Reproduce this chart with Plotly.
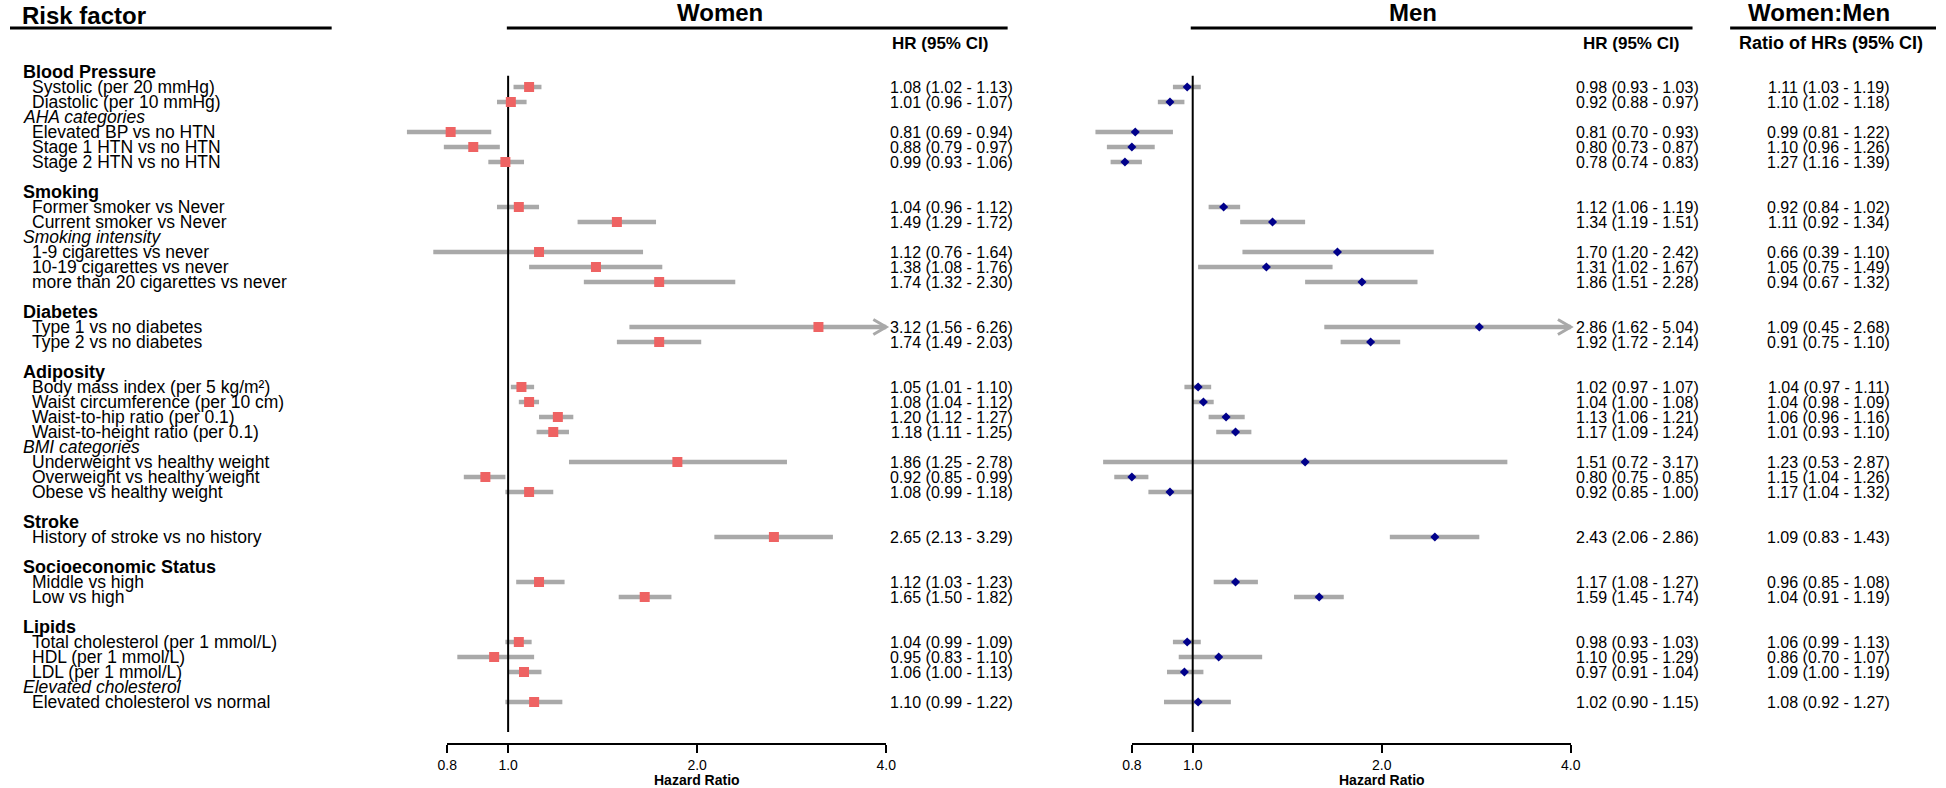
import math
import plotly.graph_objects as go

# ---------------- data ----------------
row_labels = [
    "Blood Pressure", "Systolic (per 20 mmHg)", "Diastolic (per 10 mmHg)", "AHA categories",
    "Elevated BP vs no HTN", "Stage 1 HTN vs no HTN", "Stage 2 HTN vs no HTN", "",
    "Smoking", "Former smoker vs Never", "Current smoker vs Never", "Smoking intensity",
    "1-9 cigarettes vs never", "10-19 cigarettes vs never", "more than 20 cigarettes vs never", "",
    "Diabetes", "Type 1 vs no diabetes", "Type 2 vs no diabetes", "",
    "Adiposity", "Body mass index (per 5 kg/m²)", "Waist circumference (per 10 cm)",
    "Waist-to-hip ratio (per 0.1)", "Waist-to-height ratio (per 0.1)", "BMI categories",
    "Underweight vs healthy weight", "Overweight vs healthy weight", "Obese vs healthy weight", "",
    "Stroke", "History of stroke vs no history", "",
    "Socioeconomic Status", "Middle vs high", "Low vs high", "",
    "Lipids", "Total cholesterol (per 1 mmol/L)", "HDL (per 1 mmol/L)", "LDL (per 1 mmol/L)",
    "Elevated cholesterol", "Elevated cholesterol vs normal",
]
row_kinds = ("g i i s i i i b g i i s i i i b g i i b g i i i i s i i i b "
             "g i b g i i b g i i i s i").split()

women_hr = [1.08, 1.01, 0.81, 0.88, 0.99, 1.04, 1.49, 1.12, 1.38, 1.74, 3.12, 1.74, 1.05,
            1.08, 1.20, 1.18, 1.86, 0.92, 1.08, 2.65, 1.12, 1.65, 1.04, 0.95, 1.06, 1.10]
women_lo = [1.02, 0.96, 0.69, 0.79, 0.93, 0.96, 1.29, 0.76, 1.08, 1.32, 1.56, 1.49, 1.01,
            1.04, 1.12, 1.11, 1.25, 0.85, 0.99, 2.13, 1.03, 1.50, 0.99, 0.83, 1.00, 0.99]
women_hi = [1.13, 1.07, 0.94, 0.97, 1.06, 1.12, 1.72, 1.64, 1.76, 2.30, 6.26, 2.03, 1.10,
            1.12, 1.27, 1.25, 2.78, 0.99, 1.18, 3.29, 1.23, 1.82, 1.09, 1.10, 1.13, 1.22]

men_hr = [0.98, 0.92, 0.81, 0.80, 0.78, 1.12, 1.34, 1.70, 1.31, 1.86, 2.86, 1.92, 1.02,
          1.04, 1.13, 1.17, 1.51, 0.80, 0.92, 2.43, 1.17, 1.59, 0.98, 1.10, 0.97, 1.02]
men_lo = [0.93, 0.88, 0.70, 0.73, 0.74, 1.06, 1.19, 1.20, 1.02, 1.51, 1.62, 1.72, 0.97,
          1.00, 1.06, 1.09, 0.72, 0.75, 0.85, 2.06, 1.08, 1.45, 0.93, 0.95, 0.91, 0.90]
men_hi = [1.03, 0.97, 0.93, 0.87, 0.83, 1.19, 1.51, 2.42, 1.67, 2.28, 5.04, 2.14, 1.07,
          1.08, 1.21, 1.24, 3.17, 0.85, 1.00, 2.86, 1.27, 1.74, 1.03, 1.29, 1.04, 1.15]

ratio_hr = [1.11, 1.10, 0.99, 1.10, 1.27, 0.92, 1.11, 0.66, 1.05, 0.94, 1.09, 0.91, 1.04,
            1.04, 1.06, 1.01, 1.23, 1.15, 1.17, 1.09, 0.96, 1.04, 1.06, 0.86, 1.09, 1.08]
ratio_lo = [1.03, 1.02, 0.81, 0.96, 1.16, 0.84, 0.92, 0.39, 0.75, 0.67, 0.45, 0.75, 0.97,
            0.98, 0.96, 0.93, 0.53, 1.04, 1.04, 0.83, 0.85, 0.91, 0.99, 0.70, 1.00, 0.92]
ratio_hi = [1.19, 1.18, 1.22, 1.26, 1.39, 1.02, 1.34, 1.10, 1.49, 1.32, 2.68, 1.10, 1.11,
            1.09, 1.16, 1.10, 2.87, 1.26, 1.32, 1.43, 1.08, 1.19, 1.13, 1.07, 1.19, 1.27]

tick_vals = [0.8, 1.0, 2.0, 4.0]
tick_text = ["0.8", "1.0", "2.0", "4.0"]
x_cap = 4.0

# ---------------- layout geometry (pixels) ----------------
W, H = 1946, 788
ROW0_PX, ROW_PX = 72, 15          # y pixel of first row, row spacing
PPD = 191.0                       # pixels per doubling on the HR axes
ONE_PX = {"w": 503.3, "m": 1195.0}  # x pixel of HR = 1.0
RANGE_LO, RANGE_HI = 0.6, 4.5
AXIS_Y_PX = 744

FONT = "Liberation Sans, Arial, sans-serif"
RED = "#EE6363"
NAVY = "#00008B"
GREY = "#A9A9A9"


def px(panel, v):
    return ONE_PX[panel] + math.log2(v) * PPD


def xfrac(p):
    return p / W


def yfrac(p):
    return 1 - p / H


item_rows = [i for i, k in enumerate(row_kinds) if k == "i"]

fig = go.Figure()


def add_panel(xa, panel, hr, lo, hi, color, symbol, size):
    xs, ys, ax_, ay_ = [], [], [], []
    for r, l, h in zip(item_rows, lo, hi):
        xs += [l, min(h, x_cap), None]
        ys += [r, r, None]
        if h > x_cap:
            back = x_cap / 2 ** (13 / PPD)
            ax_ += [back, x_cap, back, None]
            ay_ += [r - 0.5, r, r + 0.5, None]
    fig.add_trace(go.Scatter(x=xs, y=ys, xaxis=xa, yaxis="y", mode="lines",
                             line=dict(color=GREY, width=4.5), hoverinfo="skip",
                             showlegend=False))
    if ax_:
        fig.add_trace(go.Scatter(x=ax_, y=ay_, xaxis=xa, yaxis="y", mode="lines",
                                 line=dict(color=GREY, width=3), hoverinfo="skip",
                                 showlegend=False))
    fig.add_trace(go.Scatter(x=[1.0, 1.0], y=[0.25, 44], xaxis=xa, yaxis="y", mode="lines",
                             line=dict(color="black", width=2), hoverinfo="skip",
                             showlegend=False))
    fig.add_trace(go.Scatter(x=hr, y=item_rows, xaxis=xa, yaxis="y", mode="markers",
                             marker=dict(color=color, symbol=symbol, size=size,
                                         line=dict(width=0)),
                             showlegend=False))


add_panel("x", "w", women_hr, women_lo, women_hi, RED, "square", 10)
add_panel("x2", "m", men_hr, men_lo, men_hi, NAVY, "diamond", 7)

# invisible anchors for tick axes
fig.add_trace(go.Scatter(x=[0.8, 4.0], y=[0, 0], xaxis="x3", yaxis="y", mode="markers",
                         marker=dict(opacity=0), hoverinfo="skip", showlegend=False))
fig.add_trace(go.Scatter(x=[0.8, 4.0], y=[0, 0], xaxis="x4", yaxis="y", mode="markers",
                         marker=dict(opacity=0), hoverinfo="skip", showlegend=False))


def data_axis(panel):
    return dict(type="log", domain=[xfrac(px(panel, RANGE_LO)), xfrac(px(panel, RANGE_HI))],
                range=[math.log10(RANGE_LO), math.log10(RANGE_HI)], visible=False,
                anchor="y", fixedrange=True)


def tick_axis(panel):
    eps = 1e-6
    return dict(type="log", domain=[xfrac(px(panel, 0.8)), xfrac(px(panel, 4.0))],
                range=[math.log10(0.8) - eps, math.log10(4.0) + eps],
                anchor="free", position=(H - AXIS_Y_PX) / H,
                showline=True, linecolor="black", linewidth=2,
                ticks="outside", ticklen=8, tickwidth=2, tickcolor="black",
                tickvals=tick_vals, ticktext=tick_text,
                tickfont=dict(family=FONT, size=14, color="black"),
                showgrid=False, zeroline=False, fixedrange=True)


annotations = []


def txt(x, y, text, size, xanchor="left", xref="paper", yref="paper", color="black"):
    annotations.append(dict(x=x, y=y, xref=xref, yref=yref, text=text, showarrow=False,
                            xanchor=xanchor, yanchor="middle",
                            font=dict(family=FONT, size=size, color=color)))


# row labels
for i, (lab, k) in enumerate(zip(row_labels, row_kinds)):
    if k == "g":
        txt(xfrac(11), i, f"<b>{lab}</b>", 18, yref="y")
    elif k == "s":
        txt(xfrac(11), i, f"<i>{lab}</i>", 17.5, yref="y")
    elif k == "i":
        txt(xfrac(20), i, lab, 17.5, yref="y")

# value columns
for j, r in enumerate(item_rows):
    txt(xfrac(1015), r, f"{women_hr[j]:.2f} ({women_lo[j]:.2f} - {women_hi[j]:.2f})", 16,
        xanchor="right", yref="y")
    txt(xfrac(1709), r, f"{men_hr[j]:.2f} ({men_lo[j]:.2f} - {men_hi[j]:.2f})", 16,
        xanchor="right", yref="y")
    txt(xfrac(1902), r, f"{ratio_hr[j]:.2f} ({ratio_lo[j]:.2f} - {ratio_hi[j]:.2f})", 16,
        xanchor="right", yref="y")

# headers
txt(xfrac(10), yfrac(15), "<b>Risk factor</b>", 24)
txt(xfrac(717), yfrac(12), "<b>Women</b>", 24, xanchor="center")
txt(xfrac(1418), yfrac(12), "<b>Men</b>", 24, xanchor="center")
txt(xfrac(1828), yfrac(12), "<b>Women:Men</b>", 24, xanchor="center")
txt(xfrac(990), yfrac(43), "<b>HR (95% CI)</b>", 17, xanchor="right")
txt(xfrac(1688), yfrac(43), "<b>HR (95% CI)</b>", 17, xanchor="right")
txt(xfrac(1840), yfrac(43), "<b>Ratio of HRs (95% CI)</b>", 18, xanchor="center")

# axis titles
for xa in ("x3", "x4"):
    annotations.append(dict(x=math.log10(2.0), xref=xa, y=yfrac(780), yref="paper",
                            text="<b>Hazard Ratio</b>", showarrow=False, xanchor="center",
                            yanchor="middle", font=dict(family=FONT, size=14, color="black")))

shapes = []
for x0, x1 in [(0, 325), (502, 1008), (1193, 1700), (1738, 1946)]:
    shapes.append(dict(type="line", xref="paper", yref="paper", x0=xfrac(x0), x1=xfrac(x1),
                       y0=yfrac(28), y1=yfrac(28), line=dict(color="black", width=3)))

fig.update_layout(
    width=W, height=H, autosize=False,
    margin=dict(l=0, r=0, t=0, b=0, pad=0),
    paper_bgcolor="white", plot_bgcolor="rgba(0,0,0,0)",
    xaxis=data_axis("w"), xaxis2=data_axis("m"),
    xaxis3=tick_axis("w"), xaxis4=tick_axis("m"),
    yaxis=dict(domain=[0, 1], range=[(H - ROW0_PX) / ROW_PX, -ROW0_PX / ROW_PX],
               visible=False, fixedrange=True),
    annotations=annotations, shapes=shapes,
    showlegend=False,
)

fig.write_html("out.html", config={"displayModeBar": False},
               post_script="document.body.style.margin='0px';"
                           "document.body.style.overflow='hidden';")
